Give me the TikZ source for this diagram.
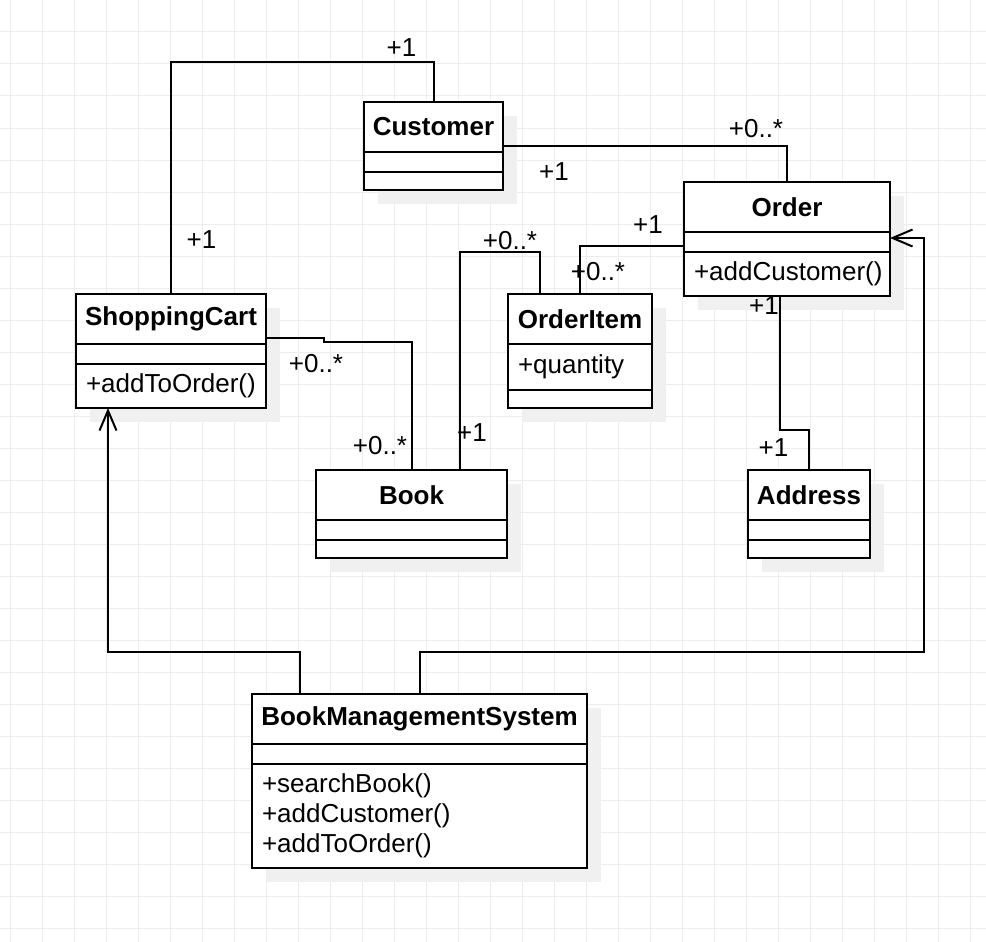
\documentclass[tikz,border=0pt]{standalone}
\usepackage{fontspec}
\setmainfont{Liberation Sans}
\usetikzlibrary{arrows.meta,positioning,shadows}
\hyphenpenalty=10000
\exhyphenpenalty=10000

\tikzset{
  classhead/.style={draw, line width=2pt, fill=white, outer sep=0pt, inner sep=0pt,
    minimum height=50pt, anchor=north west, font=\fontsize{26}{30}\selectfont\bfseries,
    drop shadow={shadow xshift=14pt, shadow yshift=-14pt, fill=black!6, opacity=1}},
  classpart/.style={draw, line width=2pt, fill=white, outer sep=0pt, inner xsep=10pt,
    inner ysep=0pt, align=left,
    drop shadow={shadow xshift=14pt, shadow yshift=-14pt, fill=black!6, opacity=1}},
  assoc/.style={line width=2pt},
  navig/.style={assoc, -{Straight Barb[length=20pt,width=17pt]}},
  mult/.style={anchor=base},
  gridline/.style={draw=black!7, line width=1pt}
}

\begin{document}
\begin{tikzpicture}[x=1pt, y=-1pt, every node/.style={font=\fontsize{26}{30}\selectfont}]
    \fill[white] (0,0) rectangle (986,942);
    \useasboundingbox (0,0) rectangle (986,942);
    \foreach \gx in {0,...,30} \draw[gridline] (10.5+32*\gx,0) -- (10.5+32*\gx,942);
    \foreach \gy in {0,...,29} \draw[gridline] (0,32*\gy) -- (986,32*\gy);

    \node[classhead, minimum width=139pt] (customer) at (364,102) {Customer};
    \node[classpart, minimum width=139pt, minimum height=20pt, below=0pt of customer] (customerattr) {};
    \node[classpart, minimum width=139pt, minimum height=18pt, below=0pt of customerattr] (customerops) {};

    \node[classhead, minimum width=206pt] (order) at (684,182) {Order};
    \node[classpart, minimum width=206pt, minimum height=20pt, below=0pt of order] (orderattr) {};
    \node[classpart, text width=186pt, minimum height=44pt, below=0pt of orderattr] (orderops) {+addCustomer()};

    \node[classhead, minimum width=190pt] (cart) at (76,294) {ShoppingCart};
    \node[classpart, minimum width=190pt, minimum height=20pt, below=0pt of cart] (cartattr) {};
    \node[classpart, text width=170pt, minimum height=44pt, below=0pt of cartattr] (cartops) {+addToOrder()};

    \node[classhead, minimum width=144pt] (item) at (508,294) {OrderItem};
    \node[classpart, text width=124pt, minimum height=46pt, below=0pt of item] (itemattr) {+quantity};
    \node[classpart, minimum width=144pt, minimum height=18pt, below=0pt of itemattr] (itemops) {};

    \node[classhead, minimum width=191pt] (book) at (316,470) {Book};
    \node[classpart, minimum width=191pt, minimum height=20pt, below=0pt of book] (bookattr) {};
    \node[classpart, minimum width=191pt, minimum height=18pt, below=0pt of bookattr] (bookops) {};

    \node[classhead, minimum width=122pt] (address) at (748,470) {Address};
    \node[classpart, minimum width=122pt, minimum height=20pt, below=0pt of address] (addressattr) {};
    \node[classpart, minimum width=122pt, minimum height=18pt, below=0pt of addressattr] (addressops) {};

    \node[classhead, minimum width=335pt] (bms) at (252,694) {BookManagementSystem};
    \node[classpart, minimum width=335pt, minimum height=20pt, below=0pt of bms] (bmsattr) {};
    \node[classpart, text width=315pt, minimum height=104pt, below=0pt of bmsattr] (bmsops)
        {+searchBook()\\+addCustomer()\\+addToOrder()};

    \coordinate (custtop) at (0,62);
    \coordinate (itembend) at (460,252);
    \coordinate (cartjog) at (324,342);
    \coordinate (addrbend) at (780,430);
    \coordinate (sysleft) at (108,652);
    \coordinate (sysright) at (924,652);

    \draw[assoc] (cart.north) |- (customer.north |- custtop) -- (customer.north);
    \draw[assoc] ([yshift=6pt]customer.south east) -| (order.north);
    \draw[assoc] ([yshift=-4pt]orderattr.west) -| (item.north);
    \draw[assoc] ([xshift=-40pt]item.north) |- (itembend) -- (itembend |- book.north);
    \draw[assoc] ([yshift=6pt]cart.south east) -| (cartjog) -| (book.north);
    \draw[assoc] (addrbend |- orderops.south) -- (addrbend) -| (address.north);
    \draw[navig] ([xshift=-120pt]bms.north) |- (sysleft) -- (sysleft |- cartops.south);
    \draw[navig] (bms.north) |- (sysright) |- ([yshift=4pt]orderattr.east);

    \node[mult] (custcart) at (401.5,57) {+1};
    \node[mult] (cartcust) at (201.5,248) {+1};
    \node[mult] (ordercust) at (756,137) {+0..*};
    \node[mult] (custorder) at (554,180) {+1};
    \node[mult] (orderitem) at (648,233) {+1};
    \node[mult] (itemorder) at (598,280) {+0..*};
    \node[mult] (itembook) at (510,249) {+0..*};
    \node[mult] (bookitem) at (472,441) {+1};
    \node[mult] (cartbook) at (316,372) {+0..*};
    \node[mult] (bookcart) at (380,454) {+0..*};
    \node[mult] (orderaddr) at (764,314) {+1};
    \node[mult] (addrorder) at (773.5,456) {+1};
\end{tikzpicture}
\end{document}
